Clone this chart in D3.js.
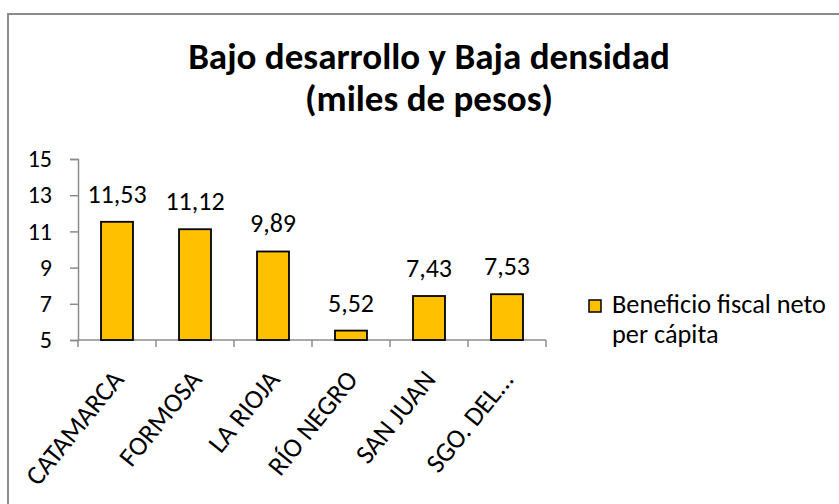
<!DOCTYPE html>
<html>
<head>
<meta charset="utf-8">
<script src="https://cdn.jsdelivr.net/npm/d3@7"></script>
<style>
  body { margin: 0; background: #fff; }
  text { font-family: Carlito, 'Open Sans', sans-serif; fill: #000; }
</style>
</head>
<body>
<div id="chart"></div>
<script>
// data
let provincias = ['CATAMARCA', 'FORMOSA', 'LA RIOJA', 'RÍO NEGRO', 'SAN JUAN', 'SGO. DEL...']
let beneficio = [11.53, 11.12, 9.89, 5.52, 7.43, 7.53]
let yTicks = [5, 7, 9, 11, 13, 15]
let serieNombre = ['Beneficio fiscal neto', 'per cápita']
let titulo = ['Bajo desarrollo y Baja densidad', '(miles de pesos)']

let width = 839
let height = 504

let svg = d3
  .select('#chart')
  .append('svg')
  .attr('width', width)
  .attr('height', height)

// chart frame (runs off the right and bottom edge)
svg
  .append('rect')
  .attr('x', 8)
  .attr('y', 14)
  .attr('width', 860)
  .attr('height', 520)
  .attr('fill', 'none')
  .attr('stroke', '#8c8c8c')
  .attr('stroke-width', 2)

// squeeze a text to a given width by changing its font size
function fitText(sel, target) {
  let w = sel.node().getComputedTextLength()
  let fs = parseFloat(sel.attr('font-size'))
  sel.attr('font-size', fs * target / w)
}

// title
svg
  .selectAll('.titulo')
  .data(titulo)
  .enter()
  .append('text')
  .attr('class', 'titulo')
  .attr('x', 429)
  .attr('y', (d, i) => 69 + i * 42)
  .attr('text-anchor', 'middle')
  .attr('font-weight', 'bold')
  .attr('font-size', 30)
  .text(d => d)
fitText(svg.select('.titulo'), 482)
svg.selectAll('.titulo').attr('font-size', svg.select('.titulo').attr('font-size'))

let x = d3
  .scaleBand()
  .domain(provincias)
  .range([78, 546])
  .paddingInner(0.59)
  .paddingOuter(0.295)

let y = d3
  .scaleLinear()
  .domain([5, 15])
  .range([340, 159])

// y axis
let yAxis = svg
  .append('g')
  .attr('transform', 'translate(78,0)')
  .call(d3.axisLeft(y).tickValues(yTicks).tickSize(8).tickPadding(18))
yAxis.selectAll('path, line').attr('stroke', '#8c8c8c').attr('stroke-width', 1.5)
yAxis.selectAll('text').attr('font-size', 24)

// x axis: line plus ticks between the categories
let bordes = d3.range(provincias.length + 1).map(i => x.range()[0] + i * x.step())
svg
  .append('line')
  .attr('x1', 78)
  .attr('x2', 546)
  .attr('y1', y(5))
  .attr('y2', y(5))
  .attr('stroke', '#8c8c8c')
  .attr('stroke-width', 1.5)
svg
  .selectAll('.xtick')
  .data(bordes)
  .enter()
  .append('line')
  .attr('class', 'xtick')
  .attr('x1', d => d)
  .attr('x2', d => d)
  .attr('y1', y(5))
  .attr('y2', y(5) + 7)
  .attr('stroke', '#8c8c8c')
  .attr('stroke-width', 1.5)

// bars
svg
  .selectAll('.bar')
  .data(beneficio)
  .enter()
  .append('rect')
  .attr('class', 'bar')
  .attr('x', (d, i) => x(provincias[i]))
  .attr('width', x.bandwidth())
  .attr('y', d => y(d))
  .attr('height', d => y(5) - y(d))
  .attr('fill', '#ffc000')
  .attr('stroke', '#000')
  .attr('stroke-width', 1.8)

// value labels, comma as decimal mark
let fmt = v => d3.format('.2f')(v).replace('.', ',')
svg
  .selectAll('.valor')
  .data(beneficio)
  .enter()
  .append('text')
  .attr('class', 'valor')
  .attr('x', (d, i) => x(provincias[i]) + x.bandwidth() / 2)
  .attr('y', d => y(d) - 19)
  .attr('text-anchor', 'middle')
  .attr('font-size', 26)
  .text(fmt)

// category labels, rotated
svg
  .selectAll('.cat')
  .data(provincias)
  .enter()
  .append('text')
  .attr('class', 'cat')
  .attr('text-anchor', 'end')
  .attr('font-size', 27)
  .attr('transform', d => 'translate(' + (x(d) + x.bandwidth() / 2 + 8) + ',' + 380 + ') rotate(-51)')
  .text(d => d)

// legend
svg
  .append('rect')
  .attr('x', 589)
  .attr('y', 300)
  .attr('width', 12)
  .attr('height', 12)
  .attr('fill', '#ffc000')
  .attr('stroke', '#000')
  .attr('stroke-width', 1.5)
svg
  .selectAll('.leyenda')
  .data(serieNombre)
  .enter()
  .append('text')
  .attr('class', 'leyenda')
  .attr('x', 612)
  .attr('y', (d, i) => 313 + i * 30)
  .attr('font-size', 20)
  .text(d => d)
fitText(svg.select('.leyenda'), 214)
svg.selectAll('.leyenda').attr('font-size', svg.select('.leyenda').attr('font-size'))
</script>
</body>
</html>
